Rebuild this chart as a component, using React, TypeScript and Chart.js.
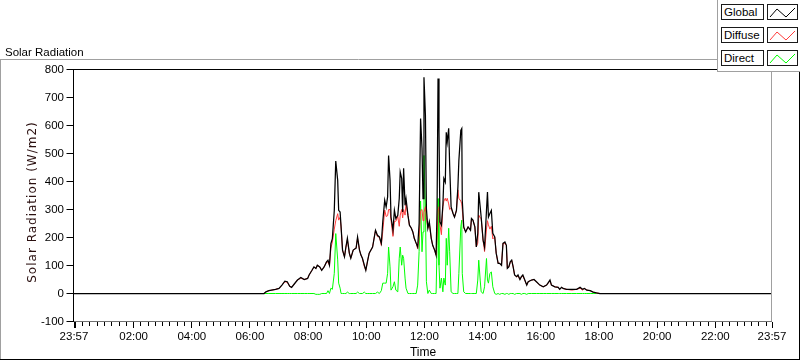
import { useEffect, useRef } from "react";
import { Chart, registerables } from "chart.js";

Chart.register(...registerables);

// ---- data (minutes after midnight, W/m2) ----
const TIMES_MIN = [
  -3, 381, 389, 393, 399, 413, 420, 426, 432, 437,
  442, 446, 451, 458, 465, 472, 479, 482, 488, 492,
  496, 499, 504, 508, 513, 518, 521, 524, 527, 530,
  534, 537, 541, 543, 546, 548, 551, 555, 558, 561,
  565, 568, 573, 579, 582, 586, 589, 592, 596, 599,
  603, 606, 613, 619, 623, 627, 631, 634, 638, 641,
  644, 646, 649, 651, 655, 658, 661, 665, 668, 670,
  673, 675, 677, 680, 682, 686, 689, 693, 696, 699,
  703, 706, 709, 712, 715, 717, 719, 722, 724, 727,
  730, 734, 737, 741, 744, 746, 748, 750, 752, 755,
  758, 760, 763, 765, 767, 770, 772, 775, 779, 782,
  786, 789, 791, 795, 797, 798, 801, 805, 810, 815,
  817, 820, 824, 827, 830, 832, 835, 837, 841, 844,
  848, 850, 852, 855, 858, 861, 865, 868, 872, 875,
  879, 882, 886, 889, 891, 894, 897, 900, 903, 906,
  910, 913, 917, 920, 923, 927, 931, 934, 941, 946,
  951, 958, 965, 972, 979, 982, 989, 996, 999, 1003,
  1006, 1013, 1024, 1034, 1041, 1046, 1050, 1055, 1062, 1068,
  1075, 1082, 1437,
];

const GLOBAL = [
  0, 0, 0, 6, 10, 15, 18, 30, 44, 42,
  26, 22, 33, 48, 57, 50, 54, 66, 83, 95,
  89, 101, 95, 83, 95, 113, 119, 101, 178, 196,
  297, 473, 404, 297, 291, 238, 155, 131, 166, 197,
  144, 126, 155, 162, 202, 155, 137, 126, 101, 83,
  119, 144, 166, 226, 208, 202, 179, 256, 333, 309,
  345, 493, 404, 273, 226, 297, 268, 279, 339, 434,
  411, 291, 447, 315, 339, 279, 244, 233, 220, 197,
  179, 166, 250, 625, 518, 339, 772, 636, 304, 233,
  256, 197, 172, 155, 137, 300, 768, 576, 256, 244,
  315, 411, 398, 576, 541, 590, 458, 309, 286, 273,
  297, 380, 475, 582, 589, 333, 238, 220, 238, 226,
  268, 262, 238, 166, 215, 362, 309, 273, 190, 166,
  297, 362, 273, 286, 297, 215, 202, 144, 108, 108,
  101, 179, 184, 172, 90, 95, 113, 119, 95, 66,
  60, 66, 50, 60, 66, 48, 30, 42, 48, 50,
  42, 30, 24, 30, 48, 30, 24, 22, 15, 22,
  18, 15, 15, 15, 22, 15, 18, 12, 10, 5,
  2, 0, 0,
];

const DIFFUSE = [
  0, 0, 0, 6, 10, 15, 18, 30, 42, 40,
  26, 22, 33, 48, 55, 50, 54, 66, 83, 95,
  89, 101, 95, 83, 95, 113, 112, 101, 162, 184,
  230, 260, 285, 262, 272, 238, 155, 131, 166, 192,
  144, 126, 155, 162, 197, 155, 137, 126, 96, 83,
  119, 144, 166, 226, 203, 202, 172, 222, 298, 275,
  278, 300, 300, 262, 204, 258, 258, 275, 240, 280,
  300, 270, 300, 280, 320, 279, 244, 233, 220, 197,
  179, 160, 200, 295, 300, 260, 290, 310, 270, 233,
  250, 197, 172, 155, 137, 200, 300, 310, 245, 210,
  310, 330, 340, 330, 340, 320, 300, 305, 286, 273,
  297, 370, 340, 330, 320, 300, 235, 220, 238, 226,
  268, 262, 238, 166, 180, 280, 270, 268, 190, 150,
  230, 260, 245, 230, 240, 195, 202, 144, 108, 108,
  101, 179, 178, 172, 90, 95, 110, 119, 95, 66,
  60, 62, 50, 60, 62, 48, 30, 42, 48, 50,
  42, 30, 24, 30, 45, 30, 24, 22, 15, 22,
  18, 15, 12, 15, 19, 12, 18, 12, 10, 5,
  2, 0, 0,
];

const DIRECT = [
  0, 0, 0, 0, 0, 0, 0, 0, 0, 0,
  0, 0, 0, 0, 0, 0, 0, 0, 0, 0,
  -3, -3, -3, 0, 0, 0, 10, 0, 19, 15,
  72, 214, 120, 37, 19, 0, 0, 0, 0, 5,
  0, 0, 0, 0, 5, 0, 0, 0, 5, 0,
  0, 0, 0, 0, 5, 0, 10, 37, 37, 37,
  72, 166, 95, 12, 24, 42, 12, 6, 126, 166,
  101, 137, 126, 55, 19, 0, 0, 0, 0, 0,
  0, 30, 150, 330, 149, 220, 493, 304, 42, 0,
  12, 0, 0, 0, 0, 172, 339, 101, 19, 55,
  6, 55, 30, 197, 101, 233, 149, 6, 0, 0,
  0, 0, 72, 238, 262, 72, 6, 0, 0, 0,
  0, 0, 0, 0, 48, 119, 48, 6, 0, 24,
  125, 48, 37, 72, 77, 24, 0, -3, 0, -3,
  0, 0, -3, 0, 0, -3, 0, 0, 0, -3,
  0, 0, 0, -3, 0, 0, -3, 0, 0, 0,
  0, 0, 0, 0, 0, 0, 0, 0, 0, 0,
  0, 0, 0, 0, 0, 0, 0, 0, 0, 0,
  0, 0, 0,
];

const SERIES_NAMES = ["Global", "Diffuse", "Direct"];
const SERIES_COLORS = ["#000000", "#ff3c3c", "#00ff00"];
const SERIES_WIDTHS = [1.25, 1, 1];

const X_MIN = -3;
const X_MAX = 1437;
const X_LABEL_VALUES = [-3, 120, 240, 360, 480, 600, 720, 840, 960, 1080, 1200, 1320, 1437];
const X_MAJOR_MARKS = [-3, 0, 120, 240, 360, 480, 600, 720, 840, 960, 1080, 1200, 1320, 1437];
const X_MINOR_STEP = 15;
const Y_TICK_VALUES = [-100, 0, 100, 200, 300, 400, 500, 600, 700, 800];
const Y_TITLE = "Solar Radiation (W/m2)";

const FONT = '"Liberation Sans", Arial, sans-serif';

function fmtTime(v: number): string {
  const m = ((Math.round(v) % 1440) + 1440) % 1440;
  const h = Math.floor(m / 60);
  const mm = m % 60;
  return String(h).padStart(2, "0") + ":" + String(mm).padStart(2, "0");
}

const decorPlugin = {
  id: "decor",
  afterDraw(chart: any) {
    const { ctx, chartArea: a, scales } = chart;
    const xs = scales.x;
    const ys = scales.y;
    ctx.save();
    ctx.lineWidth = 1;
    const line = (x1: number, y1: number, x2: number, y2: number, c: string) => {
      ctx.strokeStyle = c;
      ctx.beginPath();
      ctx.moveTo(x1, y1);
      ctx.lineTo(x2, y2);
      ctx.stroke();
    };
    // outer frame
    line(0, 59.5, 717, 59.5, "#a0a0a0");
    line(0.5, 59.5, 0.5, 359.5, "#a0a0a0");
    line(0, 359.5, 800, 359.5, "#000");
    line(799.5, 59.5, 799.5, 360, "#000");
    // plot border
    const L = Math.round(a.left) - 0.5;
    const R = Math.round(a.right) - 0.5;
    const T = Math.floor(a.top) + 0.5;
    const B = Math.floor(a.bottom) + 0.5;
    line(L, T, R, T, "#000");
    line(R, T, R, B, "#a0a0a0");
    line(L, B, R + 0.5, B, "#707070");
    line(L, T - 0.5, L, B + 0.5, "#000");
    // y tick marks
    for (const v of Y_TICK_VALUES) {
      const py = Math.floor(ys.getPixelForValue(v)) + 0.5;
      line(L - 7, py, L, py, "#000");
    }
    // x tick marks
    for (let m = 0; m < X_MAX; m += X_MINOR_STEP) {
      if (m % 120 === 0) continue;
      const px = Math.floor(xs.getPixelForValue(m)) + 0.5;
      line(px, B + 0.5, px, B + 4.5, "#000");
    }
    for (const m of X_MAJOR_MARKS) {
      const px = Math.floor(xs.getPixelForValue(m)) + 0.5;
      line(px, B + 0.5, px, B + 6.5, "#000");
    }
    // y axis title (rotated)
    ctx.translate(35.5, 202);
    ctx.rotate(-Math.PI / 2);
    ctx.font = '12px "DejaVu Sans", sans-serif';
    try {
      (ctx as any).letterSpacing = "1px";
    } catch (e) {
      /* ignore */
    }
    ctx.fillStyle = "#2a0f0f";
    ctx.textAlign = "center";
    ctx.textBaseline = "alphabetic";
    ctx.fillText(Y_TITLE, 0, 0);
    ctx.restore();
  },
};

function Swatch({ color }: { color: string }) {
  return (
    <svg width={29} height={14} style={{ display: "block" }}>
      <polyline
        points="2,12 9,4 18,12 27,3"
        fill="none"
        stroke={color}
        strokeWidth={1}
      />
    </svg>
  );
}

export default function App() {
  const canvasRef = useRef<HTMLCanvasElement | null>(null);

  useEffect(() => {
    if (!canvasRef.current) return;
    const series = [GLOBAL, DIFFUSE, DIRECT];
    const chart = new Chart(canvasRef.current, {
      type: "line",
      data: {
        datasets: series.map((vals, si) => ({
          label: SERIES_NAMES[si],
          data: TIMES_MIN.map((t, i) => ({ x: t, y: vals[i] })),
          borderColor: SERIES_COLORS[si],
          backgroundColor: SERIES_COLORS[si],
          borderWidth: SERIES_WIDTHS[si],
          pointRadius: 0,
          tension: 0,
          fill: false,
        })),
      },
      options: {
        animation: false,
        responsive: false,
        devicePixelRatio: 1,
        layout: { padding: { left: 0, top: 69.5, right: 28, bottom: 0 } },
        plugins: {
          legend: { display: false },
          title: { display: false },
          tooltip: { enabled: false },
        },
        elements: { point: { radius: 0 }, line: { borderWidth: 1, tension: 0 } },
        scales: {
          x: {
            type: "linear",
            min: X_MIN,
            max: X_MAX,
            afterFit(s: any) {
              s.height = 39.5;
            },
            afterBuildTicks(s: any) {
              s.ticks = X_LABEL_VALUES.map((v) => ({ value: v }));
            },
            grid: { display: false, drawTicks: false },
            border: { display: false },
            ticks: {
              autoSkip: false,
              maxRotation: 0,
              padding: 8,
              color: "#000",
              font: { family: FONT, size: 11.5 },
              callback: (v: any) => fmtTime(Number(v)),
            },
            title: {
              display: true,
              text: "Time",
              color: "#000",
              font: { family: FONT, size: 12 },
              padding: { top: 0, bottom: 1 },
            },
          },
          y: {
            type: "linear",
            min: -100,
            max: 800,
            afterFit(s: any) {
              s.width = 74;
            },
            afterBuildTicks(s: any) {
              s.ticks = Y_TICK_VALUES.map((v) => ({ value: v }));
            },
            grid: { display: false, drawTicks: false },
            border: { display: false },
            ticks: {
              padding: 10,
              color: "#000",
              font: { family: FONT, size: 11.5 },
            },
            title: { display: false },
          },
        },
      },
      plugins: [decorPlugin],
    });
    return () => chart.destroy();
  }, []);

  return (
    <div
      style={{
        position: "absolute",
        left: 0,
        top: 0,
        width: 800,
        height: 361,
        background: "#fff",
        overflow: "hidden",
      }}
    >
      <canvas
        ref={canvasRef}
        width={800}
        height={361}
        style={{ position: "absolute", left: 0, top: 0, display: "block" }}
      />
      <div
        style={{
          position: "absolute",
          left: 5,
          top: 45,
          font: `11.5px ${FONT}`,
          lineHeight: "14px",
          color: "#000",
          whiteSpace: "nowrap",
        }}
      >
        Solar Radiation
      </div>
      <div
        style={{
          position: "absolute",
          left: 717,
          top: 0,
          width: 83,
          height: 72,
          boxSizing: "border-box",
          background: "#fff",
          borderLeft: "1px solid #a0a0a0",
          borderBottom: "1px solid #a0a0a0",
        }}
      >
        {SERIES_NAMES.map((name, i) => (
          <div key={name}>
            <div
              style={{
                position: "absolute",
                left: 3,
                top: 4 + i * 23,
                width: 43,
                height: 16,
                boxSizing: "border-box",
                border: "1px solid #1a1a1a",
                font: `11.5px ${FONT}`,
                lineHeight: "14px",
                paddingLeft: 2,
                color: "#000",
                whiteSpace: "nowrap",
              }}
            >
              {name}
            </div>
            <div
              style={{
                position: "absolute",
                left: 49,
                top: 4 + i * 23,
                width: 31,
                height: 16,
                boxSizing: "border-box",
                border: "1px solid #1a1a1a",
              }}
            >
              <Swatch color={SERIES_COLORS[i]} />
            </div>
          </div>
        ))}
      </div>
    </div>
  );
}
